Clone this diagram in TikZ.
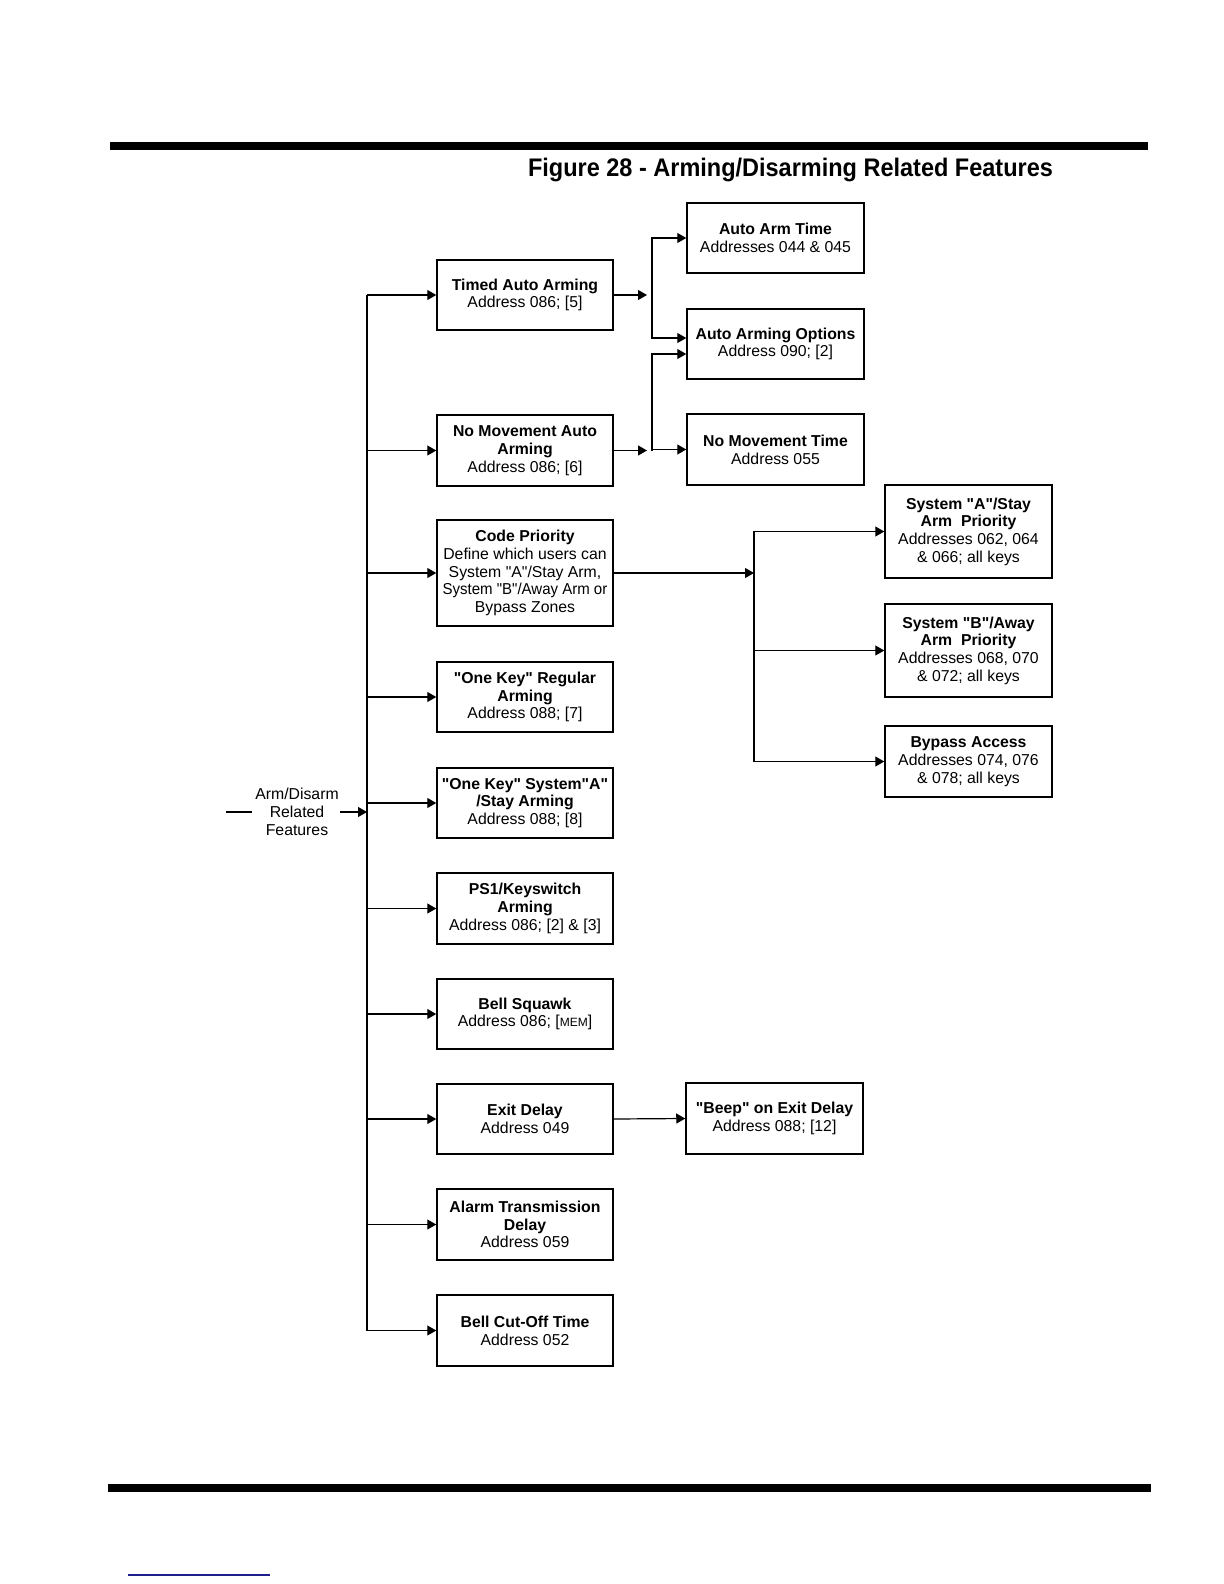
\documentclass[tikz,border=0pt]{standalone}
\usepackage{fontspec}
\setmainfont{Liberation Sans}
\usepackage{graphicx}
\usetikzlibrary{arrows.meta}
\definecolor{navyline}{RGB}{30,30,140}
\newcommand{\dq}{\textquotedbl}
\begin{document}
\begin{tikzpicture}[x=0.5pt,y=-0.5pt,
  every node/.style={font=\fontsize{7.9pt}{8.85pt}\selectfont},
  box/.style={draw, line width=0.75pt, inner sep=0pt, align=center, anchor=center},
  lbox/.style={box, minimum width=88pt, minimum height=35pt},
  rbox/.style={box, minimum width=88.5pt, minimum height=35pt},
  pbox/.style={box, minimum width=83.5pt, minimum height=46.5pt},
  conn/.style={line width=0.6pt},
  arr/.style={conn, -{Triangle[length=4.5pt,width=5pt]}}]
\useasboundingbox (0,0) rectangle (1224,1584);
% bars
\fill (110,142) rectangle (1148,150);
\fill (108,1484) rectangle (1151,1492);
\draw[navyline, line width=0.8pt] (128,1575) -- (270,1575);
% title
\node (title) at (790.5,169.5) {\scalebox{0.925}[1]{\fontsize{12.7pt}{14pt}\selectfont\bfseries Figure 28 - Arming/Disarming Related Features}};
% left column
\node[lbox] (timed) at (525,295) {\textbf{Timed Auto Arming}\\Address 086; [5]};
\node[lbox, minimum height=35.5pt] (nomove) at (525,450.5) {\textbf{No Movement Auto}\\\textbf{Arming}\\Address 086; [6]};
\node[lbox, minimum height=53pt] (code) at (525,573) {\textbf{Code Priority}\\Define which users can\\System \dq A\dq/Stay Arm,\\\scalebox{0.95}[1]{System \dq B\dq/Away Arm or}\\Bypass Zones};
\node[lbox] (onereg) at (525,697) {\textbf{\dq One Key\dq\ Regular}\\\textbf{Arming}\\Address 088; [7]};
\node[lbox] (onea) at (525,803) {\textbf{\dq One Key\dq\ System\dq A\dq}\\\textbf{/Stay Arming}\\Address 088; [8]};
\node[lbox, minimum height=35.5pt] (ps1) at (525,908.5) {\textbf{PS1/Keyswitch}\\\textbf{Arming}\\Address 086; [2] \& [3]};
\node[lbox] (squawk) at (525,1014) {\textbf{Bell Squawk}\\Address 086; [{\fontsize{6pt}{7pt}\selectfont MEM}]};
\node[lbox] (exit) at (525,1119) {\textbf{Exit Delay}\\Address 049};
\node[lbox, minimum height=35.5pt] (alarm) at (525,1224.5) {\textbf{Alarm Transmission}\\\textbf{Delay}\\Address 059};
\node[lbox, minimum height=35.5pt] (cutoff) at (525,1330.5) {\textbf{Bell Cut-Off Time}\\Address 052};
% right column 1
\node[rbox] (autoarm) at (775.5,238) {\textbf{Auto Arm Time}\\Addresses 044 \& 045};
\node[rbox] (opts) at (775.5,344) {\textbf{Auto Arming Options}\\Address 090; [2]};
\node[rbox, minimum height=35.5pt] (nmtime) at (775.5,449.5) {\textbf{No Movement Time}\\Address 055};
\node[rbox, minimum height=35.5pt] (beep) at (774.5,1118.5) {\textbf{\dq Beep\dq\ on Exit Delay}\\Address 088; [12]};
% right column 2
\node[pbox] (sysa) at (968.5,531.5) {\textbf{System \dq A\dq/Stay}\\\textbf{Arm\ \ Priority}\\Addresses 062, 064\\\& 066; all keys};
\node[pbox] (sysb) at (968.5,650.5) {\textbf{System \dq B\dq/Away}\\\textbf{Arm\ \ Priority}\\Addresses 068, 070\\\& 072; all keys};
\node[pbox, minimum height=35.5pt] (bypass) at (968.5,761.5) {\textbf{Bypass Access}\\Addresses 074, 076\\\& 078; all keys};
% input label
\node[align=center] (input) at (297,812) {Arm/Disarm\\Related\\Features};
\coordinate (instart) at (226,812);
\coordinate (inlabl) at (252,812);
\coordinate (inlabr) at (340,812);
\coordinate (trunk) at (367,812);
\coordinate (trunktop) at (367,295);
\coordinate (trunkbot) at (367,1330.5);
\draw[conn] (instart) -- (inlabl);
\draw[arr] (inlabr) -- (trunk);
\draw[conn] (trunktop) -- (trunkbot);
\foreach \n in {timed,nomove,code,onereg,onea,ps1,squawk,exit,alarm,cutoff}
  \draw[arr] (trunk |- \n.west) -- (\n.west);
% auto arming junctions
\coordinate (j1) at (652,295);
\coordinate (j2) at (652,450.5);
\draw[arr] (timed.east) -- ([xshift=-2.5pt]j1);
\draw[arr] (j1) |- (autoarm.west);
\draw[arr] (j1) |- ([yshift=3pt]opts.west);
\draw[arr] (nomove.east) -- ([xshift=-2.5pt]j2);
\draw[arr] (j2) |- ([yshift=-5pt]opts.west);
\draw[arr] (j2) |- (nmtime.west);
% code priority junction
\coordinate (j3) at (754,573);
\draw[arr] (code.east) -- (j3);
\draw[arr] (j3) |- (sysa.west);
\draw[arr] (j3) |- (sysb.west);
\draw[arr] (j3) |- (bypass.west);
% exit delay
\draw[arr] (exit.east) -- (beep.west);
\end{tikzpicture}
\end{document}
